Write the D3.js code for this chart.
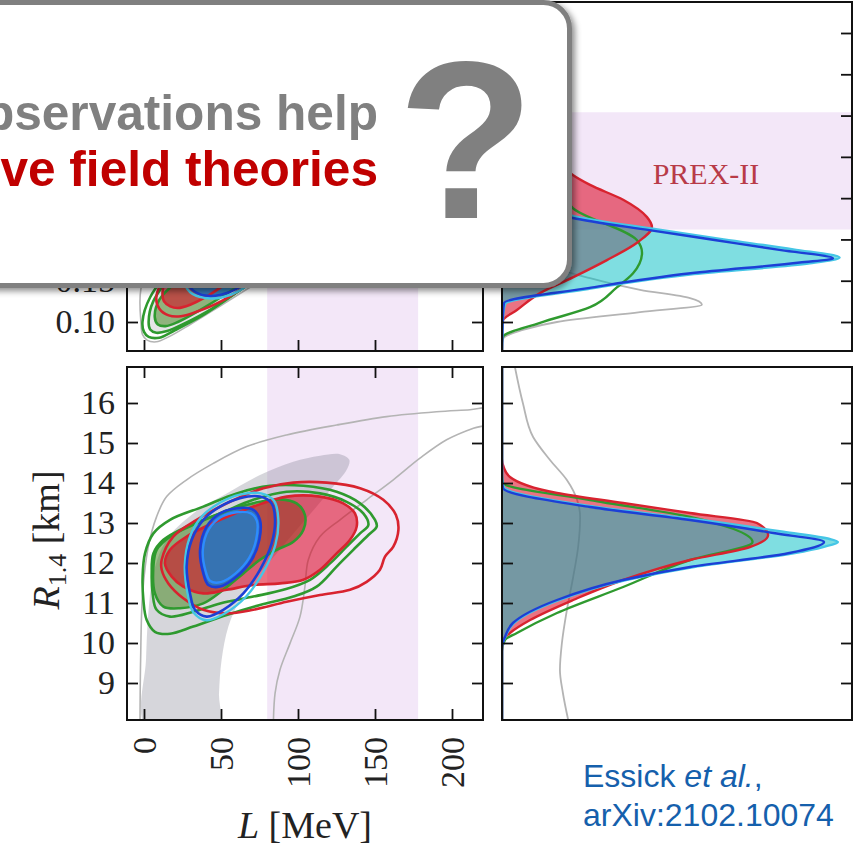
<!DOCTYPE html>
<html>
<head>
<meta charset="utf-8">
<script src="https://cdn.jsdelivr.net/npm/d3@7"></script>
<style>
  body { margin: 0; background: #fff; }
  svg { display: block; }
</style>
</head>
<body>
<svg id="chart" width="863" height="849"></svg>
<script>
// ---------------- data ----------------
const lTicks = [0, 50, 100, 150, 200];
const rTicks = [9, 10, 11, 12, 13, 14, 15, 16];
const skinTicks = [0.10, 0.15, 0.20, 0.25, 0.30, 0.35, 0.40, 0.45];
const skinLabelTicks = [0.10, 0.15];   // labels below the callout box
const prexL = [80, 178];          // PREX-II band in L [MeV]
const prexSkin = [0.212, 0.354];  // PREX-II band in R_skin [fm]

// Joint L - R_skin contours [L, R_skin]
const tlGreyOuter = [[-2,0.1],[-1,0.085],[2,0.078],[8,0.076],[16,0.082],[30,0.097],[50,0.12],[80,0.155],[120,0.2],[170,0.26],[215,0.31],[215,0.45],[150,0.43],[90,0.37],[40,0.29],[10,0.2],[-2,0.14]];
const tlGreenOuter = [[-1,0.1],[0,0.088],[3,0.082],[10,0.081],[20,0.09],[38,0.108],[62,0.138],[100,0.185],[140,0.24],[150,0.3],[110,0.3],[60,0.24],[25,0.18],[4,0.13]];
const tlGreenMid = [[3,0.1],[4,0.091],[8,0.087],[15,0.089],[26,0.098],[44,0.116],[68,0.146],[100,0.19],[130,0.24],[135,0.29],[100,0.28],[55,0.22],[22,0.165],[6,0.125]];
const tlGreen50 = [[7,0.106],[9,0.097],[14,0.095],[22,0.1],[35,0.113],[55,0.136],[85,0.175],[110,0.215],[115,0.25],[90,0.25],[55,0.2],[25,0.155],[10,0.127]];
const tlRedOuter = [[8,0.13],[10,0.116],[16,0.108],[24,0.107],[35,0.113],[50,0.125],[75,0.155],[110,0.2],[150,0.25],[160,0.3],[120,0.3],[70,0.24],[35,0.19],[14,0.155]];
const tlRed50 = [[12,0.135],[13,0.125],[17,0.119],[22,0.117],[30,0.121],[40,0.13],[60,0.155],[90,0.19],[115,0.23],[110,0.27],[80,0.25],[50,0.21],[25,0.17],[14,0.15]];
const tlBlueOuter = [[28,0.15],[32,0.138],[40,0.132],[50,0.133],[60,0.14],[70,0.155],[75,0.175],[72,0.2],[60,0.21],[45,0.2],[33,0.18]];
const tlCyanOuter = [[26,0.15],[30,0.136],[40,0.129],[51,0.13],[62,0.138],[73,0.155],[78,0.176],[74,0.203],[60,0.214],[44,0.203],[31,0.182]];
const tlBlue50 = [[35,0.16],[40,0.148],[48,0.145],[58,0.15],[65,0.165],[65,0.185],[55,0.195],[43,0.185],[37,0.172]];

// Joint L - R_1.4 contours [L, R_1.4]
const blGreyOuter = [[-2.6,7.99],[-2.2,9.575],[-0.9,11.24],[2.8,12.41],[8.2,13.16],[14.7,13.66],[27.7,14.08],[45,14.49],[66.7,14.91],[92.6,15.2],[125.1,15.45],[157.6,15.66],[190,15.78],[211.7,15.83],[224.7,15.87],[226,15.7],[224.7,15.49],[213.9,15.37],[196.5,15.08],[179.2,14.62],[161.9,14.08],[144.6,13.58],[127.3,13.08],[114.3,12.66],[106.7,12.08],[104.5,11.41],[101.3,10.66],[94.8,9.99],[88.3,9.33],[85.1,8.74],[84,7.99]];
const blGrey50 = [[0,7.99],[1.3,9.58],[2.8,10.74],[6.1,11.74],[14.7,12.58],[32,13.24],[53.7,13.74],[75.3,14.2],[96.9,14.53],[114.3,14.68],[127.3,14.72],[133.3,14.58],[131.6,14.33],[122.9,13.91],[112.1,13.41],[99.1,12.83],[86.1,12.24],[73.2,11.66],[62.3,11.08],[54.8,10.41],[50.4,9.58],[48.7,8.74],[48.3,7.99],[20,7.6]];
const blGreenOuter = [[-0.9,11.66],[0.65,12.24],[6.1,12.74],[16.9,13.08],[38.5,13.41],[60.2,13.74],[81.8,13.93],[103.5,13.93],[125.1,13.78],[140.3,13.49],[150,13.08],[151.1,12.91],[145.7,12.7],[135.9,12.33],[125.1,11.91],[112.1,11.41],[97,11.16],[75.3,10.95],[53.7,10.7],[32,10.41],[16.9,10.23],[7.1,10.28],[1.7,10.58],[-0.4,11.08]];
const blGreenMid = [[5,11.74],[6.1,12.24],[12.6,12.58],[27.7,12.91],[49.4,13.24],[71,13.58],[92.6,13.78],[114.3,13.74],[131.6,13.53],[142.4,13.24],[145.7,12.95],[140.3,12.74],[131.6,12.41],[120.8,11.99],[107.8,11.58],[90.5,11.33],[71,11.16],[49.4,10.99],[32,10.78],[16.9,10.66],[8.2,10.83],[5.6,11.24]];
const blGreen50 = [[6.1,11.91],[8.2,12.33],[16.9,12.66],[34.2,12.99],[55.8,13.33],[75.3,13.53],[88.3,13.59],[99.1,13.49],[104.5,13.2],[103.5,12.83],[97,12.53],[86.1,12.33],[75.3,12.08],[64.5,11.74],[51.5,11.33],[38.5,10.99],[23.4,10.87],[12.6,10.91],[7.1,11.24]];
const blRedOuter = [[11.5,12.08],[19,12.66],[34.2,13.08],[55.8,13.53],[77.5,13.87],[97,14.01],[118.6,14.01],[140.3,13.87],[155.4,13.58],[163.6,13.2],[165.2,12.83],[161.9,12.41],[156.5,12.16],[153.2,11.83],[144.6,11.53],[133.8,11.33],[114.3,11.2],[92.6,11.03],[71,10.83],[53.7,10.74],[38.5,10.83],[25.5,11.12],[15.8,11.49],[11.5,11.83]];
const blRed50 = [[13.6,11.99],[16.9,12.33],[27.7,12.66],[49.4,13.08],[71,13.41],[92.6,13.66],[114.3,13.66],[129.4,13.49],[137,13.24],[138.1,12.91],[133.8,12.58],[125.1,12.24],[114.3,11.83],[103.5,11.58],[88.3,11.49],[71,11.45],[53.7,11.33],[38.5,11.24],[25.5,11.41],[18,11.66]];
const blBlueOuter = [[29.9,11.24],[27.7,11.91],[31,12.58],[38.5,13.08],[49.4,13.41],[62.3,13.62],[75.3,13.66],[82.9,13.49],[85.1,13.08],[82.9,12.49],[75.3,11.83],[64.5,11.24],[51.5,10.83],[40.7,10.66],[33.1,10.83]];
const blCyanOuter = [[28.5,11.2],[26.5,11.95],[29.8,12.65],[37.5,13.16],[49,13.5],[62.3,13.71],[76,13.74],[84.5,13.55],[87.2,13.1],[85.3,12.45],[77.5,11.78],[66.5,11.17],[52.5,10.74],[40.5,10.57],[32,10.77]];
const blBlue50 = [[38.5,11.74],[36.4,12.33],[40.7,12.91],[49.4,13.24],[60.2,13.37],[71,13.33],[75.3,13.08],[74.9,12.58],[69.9,12.08],[60.2,11.66],[49.4,11.41],[41.8,11.45]];
const blCyan50 = [[40,11.8],[38.2,12.33],[42.2,12.85],[50,13.15],[60,13.27],[69.5,13.24],[73.3,13.05],[72.9,12.6],[68.2,12.12],[59.5,11.74],[49.8,11.52],[43,11.55]];

// Marginal densities of R_skin [R_skin, density]
const skinGrey = [[0.066,0],[0.072,0],[0.08,0.004],[0.09,0.06],[0.1,0.166],[0.112,0.417],[0.121,0.604],[0.129,0.568],[0.139,0.417],[0.153,0.266],[0.163,0.184],[0.2,0.1],[0.25,0.06],[0.3,0.04],[0.4,0.02],[0.486,0.01]];
const skinRed = [[0.066,0],[0.09,0],[0.102,0.003],[0.1145,0.045],[0.135,0.115],[0.154,0.214],[0.175,0.317],[0.196,0.408],[0.215,0.453],[0.227,0.438],[0.248,0.366],[0.266,0.266],[0.278,0.214],[0.3,0.17],[0.33,0.12],[0.36,0.08],[0.4,0.04],[0.45,0.015],[0.486,0.005]];
const skinGreen = [[0.066,0],[0.075,0],[0.082,0.003],[0.099,0.115],[0.118,0.266],[0.142,0.347],[0.159,0.396],[0.184,0.423],[0.199,0.408],[0.238,0.214],[0.25,0.19],[0.3,0.12],[0.35,0.07],[0.4,0.035],[0.45,0.01],[0.486,0.003]];
const skinBlue = [[0.066,0],[0.11,0.003],[0.123,0.006],[0.141,0.26],[0.159,0.57],[0.172,0.9],[0.177,1.0],[0.187,0.843],[0.199,0.647],[0.211,0.45],[0.226,0.214],[0.24,0.12],[0.26,0.07],[0.3,0.03],[0.35,0.01],[0.4,0],[0.486,0]];
const skinCyan = [[0.066,0],[0.11,0.004],[0.122,0.01],[0.14,0.26],[0.158,0.58],[0.171,0.93],[0.178,1.02],[0.188,0.88],[0.2,0.67],[0.212,0.47],[0.227,0.23],[0.24,0.13],[0.26,0.075],[0.3,0.033],[0.35,0.012],[0.4,0],[0.486,0]];

// Marginal densities of R_1.4 [R_1.4, density]
const radGrey = [[16.9,0.039],[16.0,0.063],[15.15,0.094],[14.575,0.145],[14.075,0.196],[13.575,0.227],[13.15,0.236],[12.4,0.23],[11.65,0.215],[10.825,0.196],[10.0,0.181],[9.325,0.175],[8.75,0.184],[8.075,0.2]];
const radRed = [[16.9,0],[14.6,0],[14.4,0.005],[14.15,0.024],[13.75,0.166],[13.5,0.366],[13.25,0.568],[13.0,0.77],[12.7,0.804],[12.4,0.749],[12.075,0.568],[11.575,0.366],[11.075,0.215],[10.575,0.085],[10.25,0.024],[10.075,0.003],[9.8,0],[8.075,0]];
const radGreen = [[16.9,0],[14.2,0],[14.0,0.003],[13.575,0.266],[13.15,0.568],[12.85,0.7],[12.525,0.757],[12.075,0.568],[11.4,0.366],[10.75,0.166],[10.25,0.045],[10.075,0.009],[9.8,0],[8.075,0]];
const radBlue = [[16.9,0],[14.1,0],[13.875,0.003],[13.4,0.266],[13.075,0.568],[12.75,0.82],[12.525,0.973],[12.25,0.868],[11.9,0.568],[11.575,0.366],[11.075,0.166],[10.5,0.033],[10.15,0.009],[9.9,0],[8.075,0]];
const radCyan = [[16.9,0],[14.15,0],[13.9,0.005],[13.42,0.27],[13.1,0.58],[12.78,0.85],[12.6,0.99],[12.525,1.015],[12.4,0.97],[12.25,0.885],[11.9,0.58],[11.575,0.375],[11.075,0.172],[10.5,0.036],[10.15,0.01],[9.9,0],[8.075,0]];

const headline = ["observations help", "effective field theories"];
const citation = ["Essick ", "et al.", ",", "arXiv:2102.10074"];

// ---------------- layout ----------------
const svg = d3.select("#chart");
const TICK = 11;
const P = {
  tl: { x0: 127, x1: 483, y0: 2, y1: 351 },
  tr: { x0: 502, x1: 852, y0: 2, y1: 351 },
  bl: { x0: 127, x1: 483, y0: 367, y1: 720 },
  br: { x0: 502, x1: 852, y0: 367, y1: 720 }
};

const xL = d3.scaleLinear().domain([0, 200]).range([144, 452]);
const yR = d3.scaleLinear().domain([9, 16]).range([683, 403]);
const ySkin = d3.scaleLinear().domain([0.10, 0.45]).range([322, 33]);
const xDen = d3.scaleLinear().domain([0, 1]).range([502, 833]);

const COL = {
  grey: "#b4b4b4",
  greyFill: "rgba(120,120,135,0.30)",
  green: "#2f9a2f",
  greenFill: "rgba(60,130,20,0.50)",
  red: "#d8232f",
  redFill: "rgba(219,0,30,0.55)",
  blue: "#1c3fd6",
  lightBlue: "#2d8cff",
  cyan: "#45c6e6",
  blueFill: "rgba(40,120,190,0.90)",
  cyanFill: "rgba(0,190,195,0.50)",
  band: "#f3e7f8"
};

const defs = svg.append("defs");
Object.entries(P).forEach(([k, p]) => {
  defs.append("clipPath").attr("id", "clip-" + k)
    .append("rect").attr("x", p.x0).attr("y", p.y0)
    .attr("width", p.x1 - p.x0).attr("height", p.y1 - p.y0);
});
const shadow = defs.append("filter").attr("id", "shadow")
  .attr("x", "-5%").attr("y", "-5%").attr("width", "115%").attr("height", "115%");
shadow.append("feDropShadow").attr("dx", 3).attr("dy", 3)
  .attr("stdDeviation", 3).attr("flood-color", "#000").attr("flood-opacity", 0.45);

function panel(k) {
  return svg.append("g").attr("clip-path", `url(#clip-${k})`);
}

const closed = (xs, ys) => d3.line()
  .x(d => xs(d[0])).y(d => ys(d[1]))
  .curve(d3.curveCatmullRomClosed.alpha(0.5));
const open = (xs, ys) => d3.line()
  .x(d => xs(d[0])).y(d => ys(d[1]))
  .curve(d3.curveCatmullRom.alpha(0.5));
const sortY = (data, ys) => data.slice().sort((a, b) => ys(a[0]) - ys(b[0]));
const margLine = ys => d3.line()
  .x(d => xDen(d[1])).y(d => ys(d[0])).curve(d3.curveMonotoneY);
const margArea = ys => d3.area()
  .x0(xDen(0)).x1(d => xDen(d[1])).y(d => ys(d[0])).curve(d3.curveMonotoneY);

function fillShape(g, data, gen, fill) {
  g.append("path").datum(data).attr("d", gen).attr("fill", fill).attr("stroke", "none");
}
function strokeShape(g, data, gen, stroke, w) {
  g.append("path").datum(data).attr("d", gen).attr("fill", "none")
    .attr("stroke", stroke).attr("stroke-width", w).attr("stroke-linejoin", "round");
}

// ---------------- top-left: L vs R_skin ----------------
{
  const g = panel("tl");
  const p = P.tl;
  g.append("rect").attr("x", xL(prexL[0])).attr("y", p.y0)
    .attr("width", xL(prexL[1]) - xL(prexL[0])).attr("height", p.y1 - p.y0)
    .attr("fill", COL.band);
  const c = closed(xL, ySkin);
  strokeShape(g, tlGreyOuter, c, COL.grey, 1.6);
  fillShape(g, tlGreenMid, c, "rgba(150,150,160,0.25)");
  fillShape(g, tlGreen50, c, COL.greenFill);
  fillShape(g, tlRed50, c, COL.redFill);
  fillShape(g, tlBlueOuter, c, COL.blueFill);
  strokeShape(g, tlGreenOuter, c, COL.green, 2.6);
  strokeShape(g, tlGreenMid, c, COL.green, 2.6);
  strokeShape(g, tlGreen50, c, COL.green, 2.6);
  strokeShape(g, tlRedOuter, c, COL.red, 2.6);
  strokeShape(g, tlRed50, c, COL.red, 2.6);
  strokeShape(g, tlCyanOuter, c, COL.cyan, 2.4);
  strokeShape(g, tlBlueOuter, c, COL.blue, 2.6);
  strokeShape(g, tlBlue50, c, COL.lightBlue, 2.4);
}

// ---------------- bottom-left: L vs R_1.4 ----------------
{
  const g = panel("bl");
  const p = P.bl;
  g.append("rect").attr("x", xL(prexL[0])).attr("y", p.y0)
    .attr("width", xL(prexL[1]) - xL(prexL[0])).attr("height", p.y1 - p.y0)
    .attr("fill", COL.band);
  const c = closed(xL, yR);
  fillShape(g, blGrey50, c, COL.greyFill);
  strokeShape(g, blGreyOuter, open(xL, yR), COL.grey, 1.6);
  fillShape(g, blGreen50, c, COL.greenFill);
  fillShape(g, blRed50, c, COL.redFill);
  fillShape(g, blBlue50, c, COL.blueFill);
  strokeShape(g, blGreenOuter, c, COL.green, 2.6);
  strokeShape(g, blGreenMid, c, COL.green, 2.6);
  strokeShape(g, blGreen50, c, COL.green, 2.6);
  strokeShape(g, blRedOuter, c, COL.red, 2.6);
  strokeShape(g, blRed50, c, COL.red, 2.6);
  strokeShape(g, blCyanOuter, c, COL.cyan, 2.4);
  strokeShape(g, blBlueOuter, c, COL.blue, 2.6);
  strokeShape(g, blCyan50, c, COL.lightBlue, 2.4);
  strokeShape(g, blBlue50, c, COL.blue, 2.6);
}

// ---------------- top-right: marginal of R_skin ----------------
{
  const g = panel("tr");
  const p = P.tr;
  g.append("rect").attr("x", p.x0).attr("y", ySkin(prexSkin[1]))
    .attr("width", p.x1 - p.x0).attr("height", ySkin(prexSkin[0]) - ySkin(prexSkin[1]))
    .attr("fill", COL.band);
  g.append("text").attr("x", 706).attr("y", 173)
    .attr("text-anchor", "middle").attr("dominant-baseline", "central")
    .attr("font-family", "'Liberation Serif', serif").attr("font-size", 30)
    .attr("fill", "#b83b48").text("PREX-II");
  const L = margLine(ySkin), A = margArea(ySkin);
  strokeShape(g, sortY(skinGrey, ySkin), L, COL.grey, 1.8);
  fillShape(g, sortY(skinRed, ySkin), A, COL.redFill);
  fillShape(g, sortY(skinCyan, ySkin), A, COL.cyanFill);
  strokeShape(g, sortY(skinGreen, ySkin), L, COL.green, 2.4);
  strokeShape(g, sortY(skinRed, ySkin), L, COL.red, 2.4);
  strokeShape(g, sortY(skinCyan, ySkin), L, COL.cyan, 2.4);
  strokeShape(g, sortY(skinBlue, ySkin), L, COL.blue, 2.4);
}

// ---------------- bottom-right: marginal of R_1.4 ----------------
{
  const g = panel("br");
  const L = margLine(yR), A = margArea(yR);
  strokeShape(g, sortY(radGrey, yR), L, COL.grey, 1.8);
  fillShape(g, sortY(radRed, yR), A, COL.redFill);
  fillShape(g, sortY(radCyan, yR), A, COL.cyanFill);
  strokeShape(g, sortY(radGreen, yR), L, COL.green, 2.4);
  strokeShape(g, sortY(radRed, yR), L, COL.red, 2.4);
  strokeShape(g, sortY(radCyan, yR), L, COL.cyan, 2.4);
  strokeShape(g, sortY(radBlue, yR), L, COL.blue, 2.4);
}

// ---------------- frames and ticks ----------------
Object.values(P).forEach(p => {
  svg.append("rect").attr("x", p.x0).attr("y", p.y0)
    .attr("width", p.x1 - p.x0).attr("height", p.y1 - p.y0)
    .attr("fill", "none").attr("stroke", "#111").attr("stroke-width", 2);
});

function ticks(tx, ty, axis) {
  const g = svg.append("g").attr("transform", `translate(${tx},${ty})`);
  g.call(axis.tickSizeInner(-TICK).tickSizeOuter(0).tickFormat(""));
  g.select(".domain").remove();
  g.selectAll(".tick line").attr("stroke", "#111").attr("stroke-width", 1.8);
  g.selectAll(".tick text").remove();
}
ticks(0, P.tl.y1, d3.axisBottom(xL).tickValues(lTicks));
ticks(0, P.tl.y0, d3.axisTop(xL).tickValues(lTicks));
ticks(P.tl.x0, 0, d3.axisLeft(ySkin).tickValues(skinTicks));
ticks(P.tl.x1, 0, d3.axisRight(ySkin).tickValues(skinTicks));
ticks(P.tr.x0, 0, d3.axisLeft(ySkin).tickValues(skinTicks));
ticks(P.tr.x1, 0, d3.axisRight(ySkin).tickValues(skinTicks));
ticks(0, P.bl.y1, d3.axisBottom(xL).tickValues(lTicks));
ticks(0, P.bl.y0, d3.axisTop(xL).tickValues(lTicks));
ticks(P.bl.x0, 0, d3.axisLeft(yR).tickValues(rTicks));
ticks(P.bl.x1, 0, d3.axisRight(yR).tickValues(rTicks));
ticks(P.br.x0, 0, d3.axisLeft(yR).tickValues(rTicks));
ticks(P.br.x1, 0, d3.axisRight(yR).tickValues(rTicks));

const SERIF = "'Liberation Serif', 'Times New Roman', serif";
function styleLabels(g) {
  g.select(".domain").remove();
  g.selectAll(".tick line").remove();
  g.selectAll("text").attr("font-family", SERIF).attr("font-size", 34).attr("fill", "#222");
  return g;
}
// tick labels
styleLabels(svg.append("g").attr("transform", `translate(${P.bl.x0},0)`)
  .call(d3.axisLeft(yR).tickValues(rTicks).tickFormat(d3.format("d")).tickSize(0).tickPadding(12)));
styleLabels(svg.append("g").attr("transform", `translate(${P.tl.x0},0)`)
  .call(d3.axisLeft(ySkin).tickValues(skinLabelTicks).tickFormat(d3.format(".2f")).tickSize(0).tickPadding(12)));
styleLabels(svg.append("g").attr("transform", `translate(0,${P.bl.y1})`)
  .call(d3.axisBottom(xL).tickValues(lTicks).tickFormat(d3.format("d")).tickSize(0).tickPadding(17)))
  .selectAll("text")
  .attr("transform", "rotate(-90)").attr("x", -17).attr("y", 0)
  .attr("dy", "0.35em").attr("text-anchor", "end");

// axis titles
const xt = svg.append("text").attr("x", 305).attr("y", 838).attr("text-anchor", "middle")
  .attr("font-family", SERIF).attr("font-size", 38).attr("fill", "#222");
xt.append("tspan").attr("font-style", "italic").text("L");
xt.append("tspan").text(" [MeV]");

const yt = svg.append("text").attr("transform", "translate(59,540) rotate(-90)")
  .attr("text-anchor", "middle").attr("font-family", SERIF).attr("font-size", 38).attr("fill", "#222");
yt.append("tspan").attr("font-style", "italic").text("R");
yt.append("tspan").attr("font-size", 26).attr("dy", 7).text("1.4");
yt.append("tspan").attr("dy", -7).text(" [km]");

// ---------------- callout box ----------------
const callout = svg.append("g");
callout.append("rect").attr("x", -40).attr("y", 2.5).attr("width", 609.5).attr("height", 283)
  .attr("rx", 26).attr("fill", "#fff").attr("stroke", "#808080").attr("stroke-width", 5)
  .attr("filter", "url(#shadow)");
callout.append("text").attr("x", 378).attr("y", 130).attr("text-anchor", "end")
  .attr("font-family", "'Liberation Sans', Arial, sans-serif").attr("font-weight", "bold")
  .attr("font-size", 49.6).attr("fill", "#808080").text(headline[0]);
callout.append("text").attr("x", 378).attr("y", 186).attr("text-anchor", "end")
  .attr("font-family", "'Liberation Sans', Arial, sans-serif").attr("font-weight", "bold")
  .attr("font-size", 49.6).attr("fill", "#c00000").text(headline[1]);
callout.append("text").attr("x", 466).attr("y", 218).attr("text-anchor", "middle")
  .attr("font-family", "'Liberation Sans', Arial, sans-serif").attr("font-weight", "bold")
  .attr("font-size", 224).attr("fill", "#808080").text("?");

// ---------------- citation ----------------
const cite = svg.append("g").attr("font-family", "'Liberation Sans', Arial, sans-serif")
  .attr("font-size", 32).attr("fill", "#1560ac");
const c1 = cite.append("text").attr("x", 583).attr("y", 787);
c1.append("tspan").text(citation[0]);
c1.append("tspan").attr("font-style", "italic").text(citation[1]);
c1.append("tspan").text(citation[2]);
cite.append("text").attr("x", 583).attr("y", 826).text(citation[3]);
</script>
</body>
</html>
